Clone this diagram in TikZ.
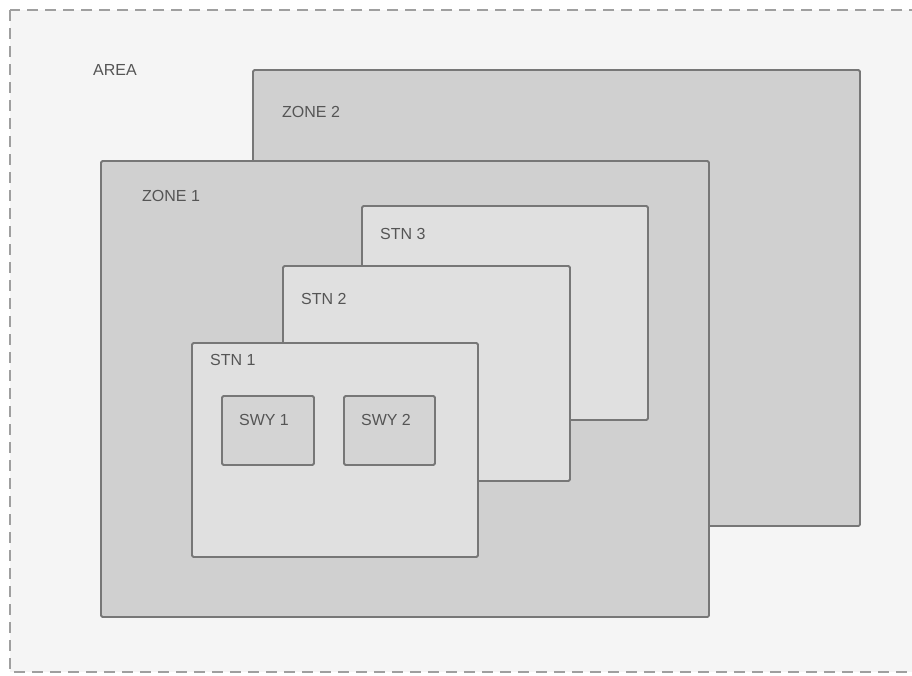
\documentclass[tikz,border=0pt]{standalone}
\usepackage{fontspec}
\setmainfont{Liberation Sans}
\usetikzlibrary{positioning}

\definecolor{areafill}{HTML}{F5F5F5}
\definecolor{zonefill}{HTML}{D0D0D0}
\definecolor{stnfill}{HTML}{E0E0E0}
\definecolor{swyfill}{HTML}{D4D4D4}
\definecolor{edgegray}{HTML}{777777}
\definecolor{textgray}{HTML}{555555}

\tikzset{
  areabox/.style={fill=areafill, draw=gray!75, line width=1.6pt, dash pattern=on 11pt off 7pt},
  zonebox/.style={fill=zonefill, draw=edgegray, line width=1.8pt, rounded corners=1.5pt},
  stnbox/.style={fill=stnfill, draw=edgegray, line width=1.8pt, rounded corners=1.5pt},
  swybox/.style={fill=swyfill, draw=edgegray, line width=1.8pt, rounded corners=1.5pt},
  lbl/.style={text=textgray, font=\fontsize{16}{18}\selectfont, inner sep=0pt, anchor=west}
}

\begin{document}
\begin{tikzpicture}[x=1pt, y=-1pt]
            % Fix the page to the reference size
            \useasboundingbox (0,0) rectangle (912,675);

            % The whole area, dashed, running off the right edge
            \draw[areabox] (10,10) rectangle (1000,672);
            \node[lbl] (area) at (93,70) {AREA};

            % Zone 2 sits behind zone 1
            \draw[zonebox] (253,70) rectangle (860,526);
            \node[lbl] (zone2) at (282,112) {ZONE 2};

            % Zone 1
            \draw[zonebox] (101,161) rectangle (709,617);
            \node[lbl] (zone1) at (142,196) {ZONE 1};

            % Stations stacked back to front
            \draw[stnbox] (362,206) rectangle (648,420);
            \node[lbl] (stn3) at (380,234) {STN 3};

            \draw[stnbox] (283,266) rectangle (570,481);
            \node[lbl] (stn2) at (301,299) {STN 2};

            \draw[stnbox] (192,343) rectangle (478,557);
            \node[lbl] (stn1) at (210,360) {STN 1};

            % Switchyards inside station 1
            \draw[swybox] (222,396) rectangle (314,465);
            \node[lbl, anchor=center] (swy1) at (264,420) {SWY 1};

            \draw[swybox] (344,396) rectangle (435,465);
            \node[lbl, anchor=center] (swy2) at (386,420) {SWY 2};

        \end{tikzpicture}
\end{document}
